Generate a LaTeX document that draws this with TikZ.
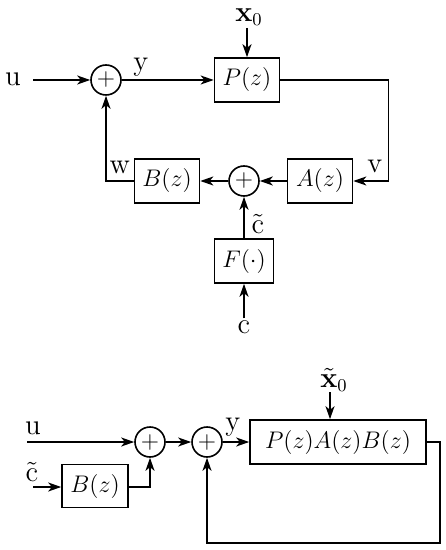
\documentclass[tikz,border=0pt]{standalone}
\usepackage{tikz}
\usetikzlibrary{positioning,arrows.meta}

\begin{document}
\begin{tikzpicture}[x=0.5pt,y=-0.5pt,node distance=0 cm,font=\fontsize{12.8}{15}\selectfont]
    \tikzstyle{block} = [rectangle, draw=black, line width=0.8pt, minimum width=32.5pt, minimum height=22pt, inner sep=1pt]
    \tikzstyle{sum} = [circle, draw=black, line width=0.8pt, minimum size=15pt, inner sep=0pt, font=\fontsize{13}{15}\selectfont]
    \tikzstyle{sig} = [font=\fontsize{13.5}{16}\selectfont, inner sep=1pt]
    \tikzstyle{arr} = [line width=0.8pt, -{Stealth[length=6.5pt,width=4.5pt,inset=1.8pt]}]
    \useasboundingbox (0,0) rectangle (445,550);
    % upper loop
    \node (u)   [sig] at (13,79) {$\mathrm{u}$};
    \coordinate (uin) at (33,80);
    \node (s1)  [sum] at (106,80) {$+$};
    \node (ly)  [sig] at (141,67) {$\mathrm{y}$};
    \node (P)   [block] at (247,80) {$P(z)$};
    \node (x0)  [sig] at (249,17) {$\mathbf{x}_0$};
    \node (A)   [block] at (320,181) {$A(z)$};
    \node (lv)  [sig] at (375,166) {$\mathrm{v}$};
    \node (s2)  [sum] at (244,181) {$+$};
    \node (B)   [block] at (167,181) {$B(z)$};
    \node (lw)  [sig] at (120,167) {$\mathrm{w}$};
    \node (F)   [block, minimum width=29.5pt] at (244,261) {$F(\cdot)$};
    \node (lct) [sig] at (258,224) {$\tilde{\mathrm{c}}$};
    \node (c)   [sig] at (244,327) {$\mathrm{c}$};
    \draw[arr] (uin) -- (s1);
    \draw[arr] (s1) -- (P);
    \draw[arr] (P.north |- x0.south) -- (P.north);
    \draw[arr] (P.east) -- ++(108,0) |- (A.east);
    \draw[arr] (A) -- (s2);
    \draw[arr] (s2) -- (B);
    \draw[arr] (B.west) -| (s1.south);
    \draw[arr] (F) -- (s2);
    \draw[arr] (c) -- (F);
    % lower loop
    \node (u2)  [sig] at (33,428) {$\mathrm{u}$};
    \coordinate (u2in) at (27,442);
    \node (s3)  [sum] at (150,442) {$+$};
    \node (s4)  [sum] at (207,442) {$+$};
    \node (ly2) [sig] at (233,427) {$\mathrm{y}$};
    \node (PAB) [block, minimum width=88pt] at (338,442) {$P(z)A(z)B(z)$};
    \node (x0t) [sig] at (334,380) {$\tilde{\mathbf{x}}_0$};
    \coordinate (x0tin) at (330,392);
    \node (lct2) [sig] at (32,472) {$\tilde{\mathrm{c}}$};
    \coordinate (ctin) at (33,487);
    \node (B2)  [block, minimum height=21.5pt, minimum width=33pt] at (95,486) {$B(z)$};
    \draw[arr] (u2in) -- (s3);
    \draw[arr] (s3) -- (s4);
    \draw[arr] (s4) -- (PAB);
    \draw[arr] (x0tin) -- (x0tin |- PAB.north);
    \draw[arr] (PAB.east) -- ++(13,0) -- ++(0,101) -| (s4.south);
    \draw[arr] (ctin) -- (ctin -| B2.west);
    \draw[arr] (B2.east |- ctin) -| (s3.south);
\end{tikzpicture}
\end{document}
